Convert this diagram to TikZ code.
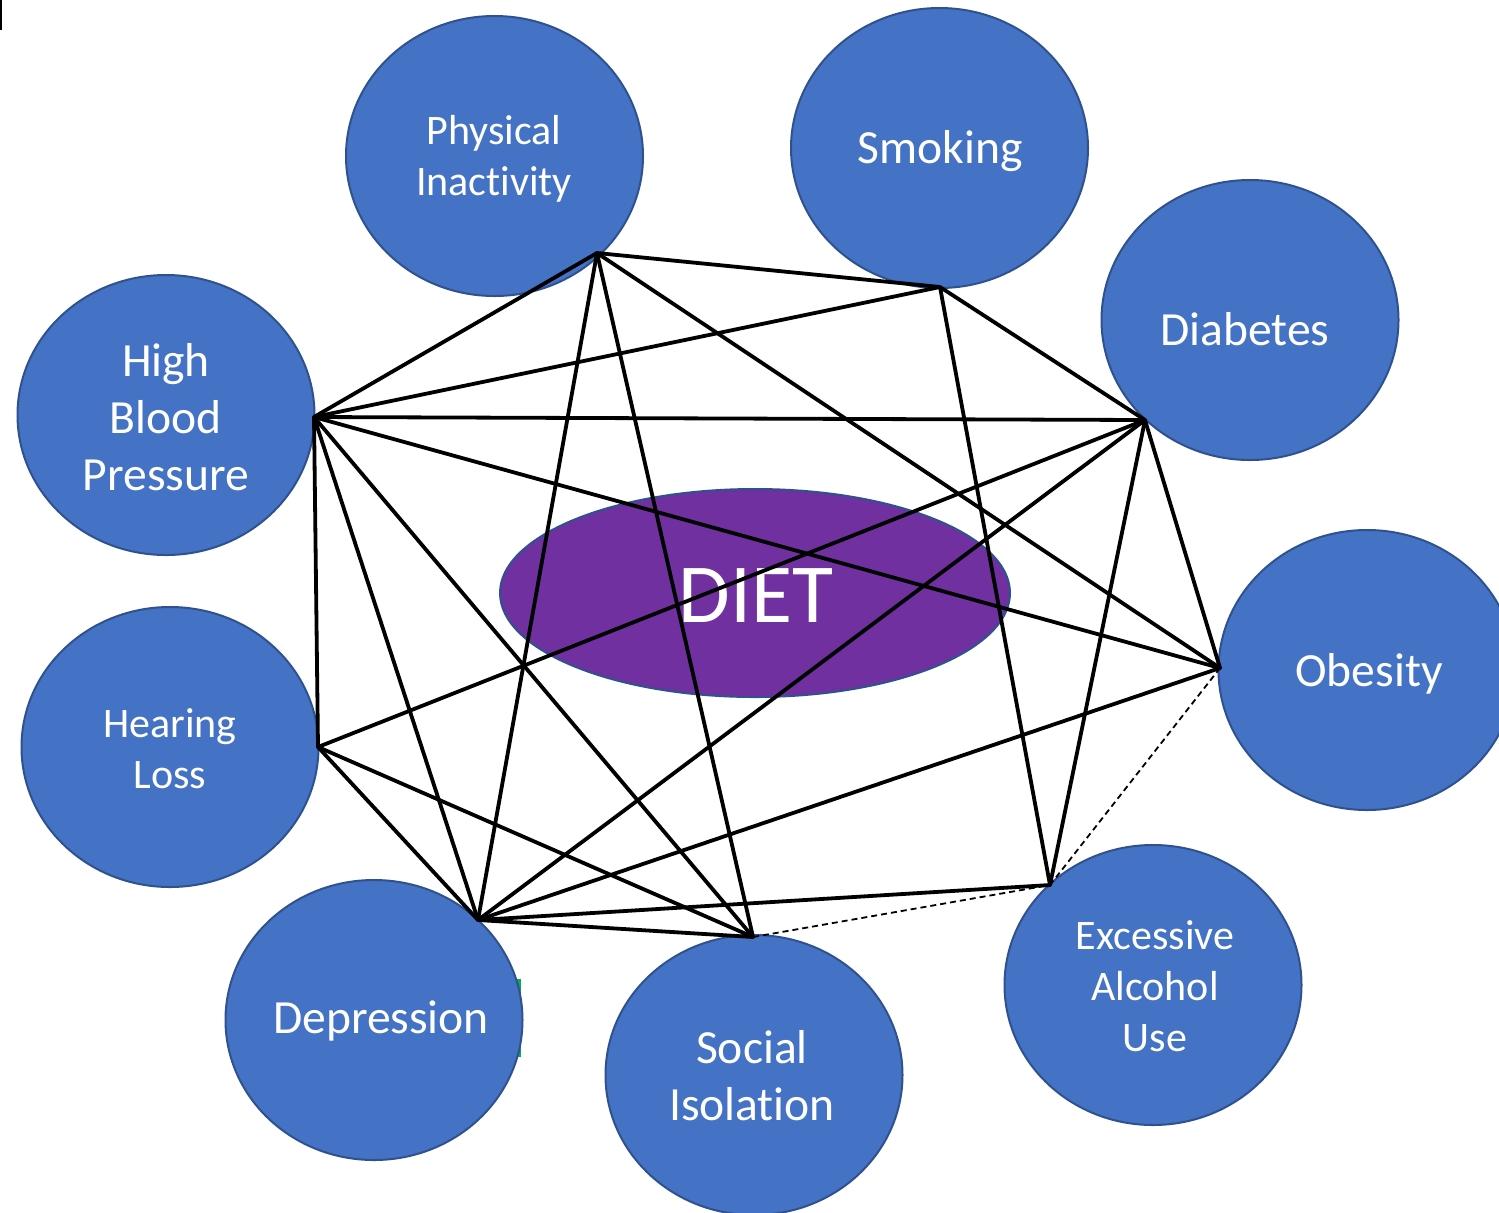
\documentclass[tikz,border=0pt]{standalone}
\usepackage{fontspec}
\setmainfont[Ligatures=NoCommon]{Carlito}
\usetikzlibrary{shapes.geometric}
\definecolor{riskblue}{HTML}{4472C4}
\definecolor{bordblue}{HTML}{2F528F}
\definecolor{dietpurple}{HTML}{7030A0}
\definecolor{artgreen}{HTML}{00B050}
\begin{document}
\begin{tikzpicture}[x=0.5pt,y=-0.5pt,
  risk/.style={ellipse, draw=bordblue, fill=riskblue, line width=1pt,
    minimum width=148.5pt, minimum height=140pt, inner sep=0pt},
  lblS/.style={text=white, align=center, font=\fontsize{21}{25.5}\selectfont, inner sep=0pt},
  lblL/.style={text=white, align=center, font=\fontsize{23.8}{28.5}\selectfont, inner sep=0pt},
  conn/.style={draw=black, line width=1.9pt, line cap=round},
  weak/.style={draw=black, line width=0.9pt, dash pattern=on 3pt off 2pt}]
\useasboundingbox (0,0) rectangle (1499,1212);
\clip (0,0) rectangle (1499,1212);
\fill[white] (0,0) rectangle (1499,1212);
% small artefacts
\fill[black] (0,0) rectangle (2,30);
\fill[artgreen] (515,979) rectangle (521,1057);
% risk factor circles
\node[risk] (phy) at (494.5,156) {};
\node[risk] (smo) at (939.5,148) {};
\node[risk] (dia) at (1250,320) {};
\node[risk] (obe) at (1367,670) {};
\node[risk] (alc) at (1153,985) {};
\node[risk] (soc) at (754,1075) {};
\node[risk] (dep) at (374,1020) {};
\node[risk] (hea) at (170,747) {};
\node[risk] (hbp) at (166,415) {};
% labels
\node[lblS] (phyt) at (494,159) {Physical\\Inactivity};
\node[lblL] (smot) at (940,151) {Smoking};
\node[lblL] (diat) at (1245,329) {Diabetes};
\node[lblL] (obet) at (1369,674) {Obesity};
\node[lblS] (alct) at (1155,986) {Excessive\\Alcohol\\Use};
\node[lblL] (soct) at (752,1076) {Social\\Isolation};
\node[lblL] (dept) at (381,1021) {Depression};
\node[lblS] (heat) at (170,749) {Hearing\\Loss};
\node[lblL] (hbpt) at (166,417) {High\\Blood\\Pressure};
% centre
\node[ellipse, draw=bordblue, fill=dietpurple, line width=1pt, minimum width=255pt,
  minimum height=104pt, inner sep=0pt] (diet) at (755,593) {};
\node[text=white, font=\fontsize{42}{50}\selectfont, inner sep=0pt] (dietl) at (756,596) {DIET};
% junction points
\coordinate (pP) at (597,253);
\coordinate (pS) at (940,287);
\coordinate (pD) at (1145,420);
\coordinate (pO) at (1220,668);
\coordinate (pA) at (1050,885);
\coordinate (pSI) at (753,937);
\coordinate (pDep) at (478,920);
\coordinate (pH) at (318,747);
\coordinate (pHBP) at (314,417);
% connectors
\draw[weak] (pO) -- (pA);
\draw[weak] (pSI) -- (pA);
\draw[conn] (pP) -- (pS);
\draw[conn] (pP) -- (pHBP);
\draw[conn] (pP) -- (pDep);
\draw[conn] (pP) -- (pSI);
\draw[conn] (pP) -- (pO);
\draw[conn] (pS) -- (pHBP);
\draw[conn] (pS) -- (pD);
\draw[conn] (pS) -- (pA);
\draw[conn] (pD) -- (pHBP);
\draw[conn] (pD) -- (pH);
\draw[conn] (pD) -- (pDep);
\draw[conn] (pD) -- (pO);
\draw[conn] (pD) -- (pA);
\draw[conn] (pHBP) -- (pO);
\draw[conn] (pHBP) -- (pH);
\draw[conn] (pHBP) -- (pDep);
\draw[conn] (pHBP) -- (pSI);
\draw[conn] (pH) -- (pDep);
\draw[conn] (pH) -- (pSI);
\draw[conn] (pDep) -- (pSI);
\draw[conn] (pDep) -- (pA);
\draw[conn] (pDep) -- (pO);
\end{tikzpicture}
\end{document}
